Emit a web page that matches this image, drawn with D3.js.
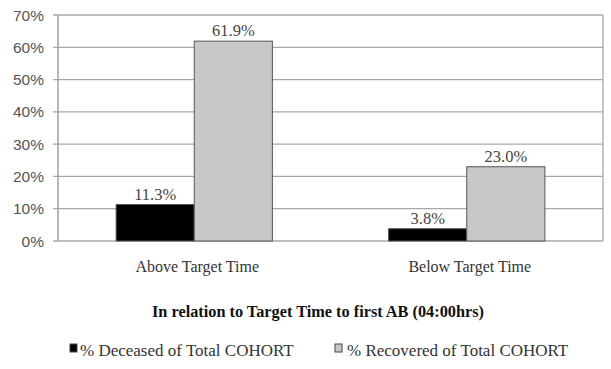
<!DOCTYPE html>
<html><head><meta charset="utf-8">
<script src="https://cdn.jsdelivr.net/npm/d3@7"></script>
<style>body{margin:0;background:#fff}svg{display:block}</style>
</head><body>
<svg id="c" width="611" height="369"></svg>
<script>
const categories = ["Above Target Time", "Below Target Time"];
const seriesNames = ["% Deceased of Total COHORT", "%  Recovered of Total COHORT"];
const deceased = [11.3, 3.8];
const recovered = [61.9, 23.0];
const yTicks = [0, 10, 20, 30, 40, 50, 60, 70];
const xTitle = "In relation to Target Time to first AB (04:00hrs)";

const colors = ["#000000", "#c8c8c8"];
const serif = "Liberation Serif, Times New Roman, serif";
const svg = d3.select("#c");
const L = 58, R = 603, T = 15, B = 241;
const x = d3.scaleBand().domain(categories).range([L, R]).paddingInner(0).paddingOuter(0);
const y = d3.scaleLinear().domain([0, 70]).range([B, T]);
const x1 = d3.scaleBand().domain([0, 1]).range([0, x.bandwidth()]).paddingOuter(0.744).paddingInner(0);

// gridlines
svg.append("g").selectAll("line").data(yTicks).join("line")
  .attr("x1", L - 5).attr("x2", R).attr("y1", d => y(d)).attr("y2", d => y(d))
  .attr("stroke", "#a8a8a8").attr("stroke-width", 1.3);
// axis frame
svg.append("line").attr("x1", L).attr("x2", L).attr("y1", T).attr("y2", B).attr("stroke", "#a0a0a0").attr("stroke-width", 1.5);
svg.append("line").attr("x1", R).attr("x2", R).attr("y1", T).attr("y2", B).attr("stroke", "#a8a8a8").attr("stroke-width", 1.3);

// y labels
svg.append("g").selectAll("text").data(yTicks).join("text")
  .attr("x", L - 14).attr("y", d => y(d)).attr("dy", "0.36em")
  .attr("text-anchor", "end").attr("font-family", "Liberation Sans, Arial, sans-serif")
  .attr("font-size", 15.5).attr("fill", "#555").text(d => d + "%");

const data = categories.map((c, i) => ({c, vals: [deceased[i], recovered[i]]}));
const g = svg.append("g").selectAll("g").data(data).join("g")
  .attr("transform", d => `translate(${x(d.c)},0)`);
g.selectAll("rect").data(d => d.vals.map((v, j) => ({v, j}))).join("rect")
  .attr("x", d => x1(d.j)).attr("width", x1.bandwidth())
  .attr("y", d => y(d.v)).attr("height", d => B - y(d.v))
  .attr("fill", d => colors[d.j]).attr("stroke", "#555").attr("stroke-width", 1);
g.selectAll("text").data(d => d.vals.map((v, j) => ({v, j}))).join("text")
  .attr("x", d => x1(d.j) + x1.bandwidth() / 2).attr("y", d => y(d.v) - 5)
  .attr("text-anchor", "middle").attr("font-family", serif)
  .attr("font-size", 16.5).attr("fill", "#444").text(d => d.v.toFixed(1) + "%");

// category labels
svg.append("g").selectAll("text").data(categories).join("text")
  .attr("x", d => x(d) + x.bandwidth() / 2 + 3).attr("y", 272)
  .attr("text-anchor", "middle").attr("font-family", serif)
  .attr("font-size", 16).attr("fill", "#333").text(d => d);

svg.append("text").attr("x", 318).attr("y", 317).attr("text-anchor", "middle")
  .attr("font-family", serif).attr("font-weight", "bold")
  .attr("font-size", 16.3).attr("fill", "#111").text(xTitle);

// legend
const legX = [70, 335];
const lg = svg.append("g").selectAll("g").data(seriesNames).join("g")
  .attr("transform", (d, i) => `translate(${legX[i]},344)`);
lg.append("rect").attr("width", 7).attr("height", 8).attr("fill", (d, i) => colors[i]).attr("stroke", "#444").attr("stroke-width", 1);
lg.append("text").attr("x", (d, i) => i === 0 ? 10 : 12).attr("y", 12)
  .attr("font-family", serif).attr("font-size", 17)
  .attr("fill", "#333").text(d => d);
</script>
</body></html>
